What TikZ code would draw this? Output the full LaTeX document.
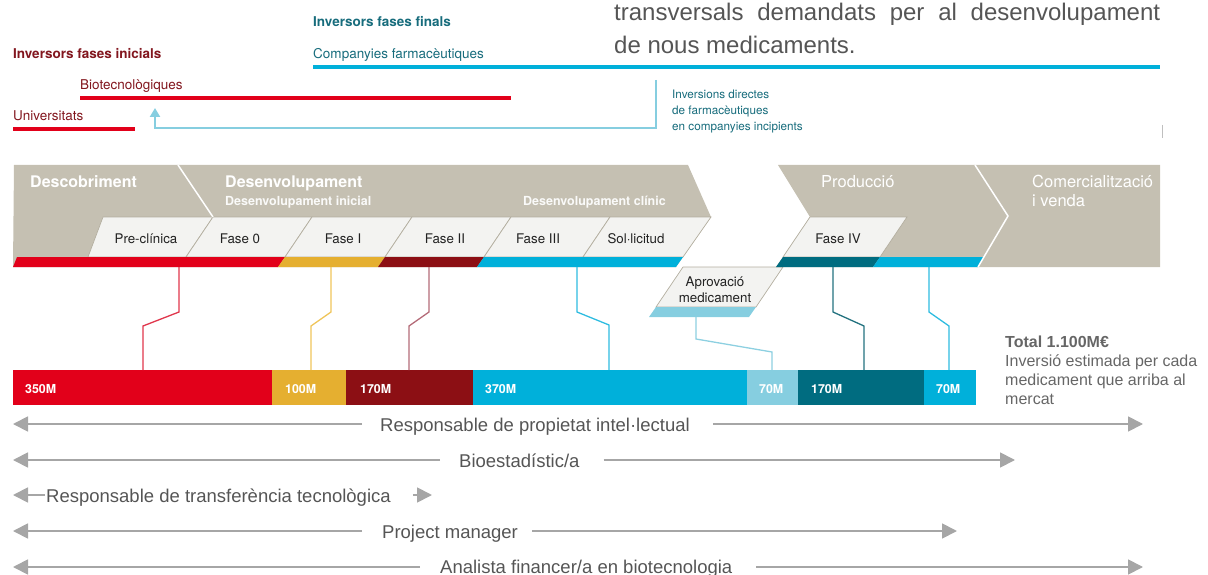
\documentclass[tikz,border=0pt]{standalone}
\usepackage{fontspec}
\setmainfont{TeX Gyre Heros}
\newfontfamily\arialf{Liberation Sans}
\usetikzlibrary{arrows.meta}
\definecolor{bandc}{HTML}{C5C0B2}
\definecolor{cellc}{HTML}{F3F3F1}
\definecolor{celledge}{HTML}{B3AE9F}
\definecolor{redc}{HTML}{E2001A}
\definecolor{orangec}{HTML}{E5AF30}
\definecolor{dredc}{HTML}{8C0F14}
\definecolor{cyanc}{HTML}{00B0DA}
\definecolor{lbluec}{HTML}{86CEE0}
\definecolor{tealc}{HTML}{006C80}
\definecolor{tealtext}{HTML}{176C7C}
\definecolor{dredtext}{HTML}{82161E}
\definecolor{rolegray}{HTML}{A6A6A6}
\definecolor{roletext}{HTML}{555555}
\definecolor{darktext}{HTML}{222222}
\definecolor{conred}{HTML}{E0364C}
\definecolor{conorange}{HTML}{EFC55A}
\definecolor{condred}{HTML}{B46B78}
\definecolor{concyan}{HTML}{2EBCE0}
\definecolor{conlb}{HTML}{8DD0E1}
\definecolor{conteal}{HTML}{23727F}
\tikzset{
  toplabel/.style={anchor=base west, inner sep=0pt, font=\fontsize{13.5}{16}\selectfont},
  headlabel/.style={anchor=base west, inner sep=0pt, text=white, font=\fontsize{16}{19}\selectfont\bfseries},
  sublabel/.style={anchor=base west, inner sep=0pt, text=white!92!bandc, font=\fontsize{12.5}{15}\selectfont\bfseries},
  celltext/.style={anchor=base, inner sep=0pt, text=darktext, font=\fontsize{13.3}{16}\selectfont},
  barlabel/.style={anchor=base west, inner sep=0pt, text=white, font=\fontsize{12.4}{15}\selectfont\bfseries},
  seg/.style={anchor=north west, inner sep=0pt, minimum height=35pt},
  conn/.style={line width=1.3pt},
  roletextst/.style={anchor=base west, inner sep=0pt, text=roletext, font=\arialf\fontsize{18.5}{22}\selectfont},
  rolearrow/.style={draw=rolegray, line width=1.8pt, -{Triangle[length=15pt,width=15pt]}},
  cellshape/.style={fill=cellc, draw=celledge, line width=0.7pt}
}
\begin{document}
\begin{tikzpicture}[x=1pt,y=-1pt]
\useasboundingbox (0,0) rectangle (1208,575);

% ---------- top text ----------
\node[anchor=base west, inner sep=0pt, text=roletext, font=\arialf\fontsize{24}{33}\selectfont] (tr1) at (614,21)
  {\hbox to 546pt{transversals\hfill demandats\hfill per\hfill al\hfill desenvolupament}};
\node[anchor=base west, inner sep=0pt, text=roletext, font=\arialf\fontsize{24}{33}\selectfont] (tr2) at (614,54)
  {de nous medicaments.};

\node[toplabel, text=tealtext, font=\fontsize{13.5}{16}\selectfont\bfseries] (iff) at (313,27) {Inversors fases finals};
\node[toplabel, text=dredtext, font=\fontsize{13.5}{16}\selectfont\bfseries] (ifi) at (13,59) {Inversors fases inicials};
\node[toplabel, text=tealtext] (cf) at (313,59) {Companyies farmacèutiques};
\node[toplabel, text=dredtext] (bt) at (80,90) {Biotecnològiques};
\node[toplabel, text=dredtext] (un) at (13,121) {Universitats};
\node[anchor=base west, inner sep=0pt, text=tealtext, align=left,
  font=\fontsize{11.7}{16}\selectfont] (idf) at (672,131)
  {Inversions directes\\de farmacèutiques\\en companyies incipients};

\coordinate (cfA) at (313,67); \coordinate (cfB) at (1160,67);
\draw[cyanc, line width=3.5pt] (cfA) -- (cfB);
\coordinate (btA) at (80,98); \coordinate (btB) at (511,98);
\draw[redc, line width=3.5pt] (btA) -- (btB);
\coordinate (unA) at (13,129); \coordinate (unB) at (135,129);
\draw[redc, line width=3.5pt] (unA) -- (unB);
\coordinate (arS) at (656,80); \coordinate (arT) at (155,108);
\draw[lbluec, line width=2.5pt, -{Triangle[length=9pt,width=10pt]}] (arS) -- (656,128) -- (155,128) -- (arT);
\coordinate (tkA) at (1162,125); \coordinate (tkB) at (1162,138);
\draw[black!25, line width=1pt] (tkA) -- (tkB);

% ---------- process band ----------
\fill[bandc] (14,165) -- (688,165) -- (711,217) -- (683,257) -- (676,267) -- (13,267) -- cycle;
\fill[bandc] (778,165) -- (1160,165) -- (1160,267) -- (776,267) -- (783,257) -- (810,217) -- cycle;

\draw[cellshape] (103,217) -- (213,217) -- (186,257) -- (88,257) -- cycle;
\draw[cellshape] (213,217) -- (312,217) -- (285,257) -- (186,257) -- cycle;
\draw[cellshape] (312,217) -- (412,217) -- (385,257) -- (285,257) -- cycle;
\draw[cellshape] (412,217) -- (511,217) -- (484,257) -- (385,257) -- cycle;
\draw[cellshape] (511,217) -- (610,217) -- (583,257) -- (484,257) -- cycle;
\draw[cellshape] (610,217) -- (711,217) -- (683,257) -- (583,257) -- cycle;
\draw[cellshape] (810,217) -- (907,217) -- (880,257) -- (783,257) -- cycle;
\draw[cellshape] (683,267) -- (783,267) -- (756,307) -- (656,307) -- cycle;

\fill[redc] (17,257) -- (285,257) -- (278,267) -- (13,267) -- cycle;
\fill[orangec] (285,257) -- (385,257) -- (378,267) -- (278,267) -- cycle;
\fill[dredc] (385,257) -- (484,257) -- (477,267) -- (378,267) -- cycle;
\fill[cyanc] (484,257) -- (683,257) -- (676,267) -- (477,267) -- cycle;
\fill[tealc] (783,257) -- (880,257) -- (873,267) -- (776,267) -- cycle;
\fill[cyanc] (880,257) -- (984,257) -- (978,267) -- (873,267) -- cycle;
\fill[lbluec] (656,307) -- (756,307) -- (749,317) -- (649,317) -- cycle;

\draw[white, line width=1.5pt] (178,165) -- (213,217);
\draw[white, line width=1.5pt] (975,165) -- (1008,216) -- (978,267);

\node[headlabel] (hdesc) at (30,187) {Descobriment};
\node[headlabel] (hdev) at (225,187) {Desenvolupament};
\node[sublabel] (hdevi) at (225,205) {Desenvolupament inicial};
\node[sublabel] (hdevc) at (523,205) {Desenvolupament clínic};
\node[headlabel, font=\fontsize{16.5}{19}\selectfont] (hprod) at (821,187) {Producció};
\node[headlabel, align=left, font=\fontsize{16.5}{19}\selectfont] (hcom) at (1032,206) {Comercialització\\i venda};

\node[celltext] (cpre) at (146,243) {Pre-clínica};
\node[celltext] (cf0) at (240,243) {Fase 0};
\node[celltext] (cf1) at (343,243) {Fase I};
\node[celltext] (cf2) at (445,243) {Fase II};
\node[celltext] (cf3) at (538,243) {Fase III};
\node[celltext] (csol) at (636,243) {Sol·licitud};
\node[celltext] (cf4) at (838,243) {Fase IV};
\node[celltext, align=center, font=\fontsize{13.3}{16}\selectfont] (capr) at (715,302) {Aprovació\\medicament};

% ---------- lower bar ----------
\node[seg, fill=redc, minimum width=259pt] (s1) at (13,370) {};
\node[seg, fill=orangec, minimum width=74pt] (s2) at (272,370) {};
\node[seg, fill=dredc, minimum width=127pt] (s3) at (346,370) {};
\node[seg, fill=cyanc, minimum width=274pt] (s4) at (473,370) {};
\node[seg, fill=lbluec, minimum width=51pt] (s5) at (747,370) {};
\node[seg, fill=tealc, minimum width=126pt] (s6) at (798,370) {};
\node[seg, fill=cyanc, minimum width=52pt] (s7) at (924,370) {};

\node[barlabel] (b1) at (25,393) {350M};
\node[barlabel] (b2) at (285,393) {100M};
\node[barlabel] (b3) at (360,393) {170M};
\node[barlabel] (b4) at (485,393) {370M};
\node[barlabel] (b5) at (759,393) {70M};
\node[barlabel] (b6) at (811,393) {170M};
\node[barlabel] (b7) at (936,393) {70M};

% ---------- connectors ----------
\coordinate (u1) at (179,267); \coordinate (l1) at (143,370);
\coordinate (u2) at (331,267); \coordinate (l2) at (311,370);
\coordinate (u3) at (429,267); \coordinate (l3) at (409,370);
\coordinate (u4) at (577,267); \coordinate (l4) at (609,370);
\coordinate (u5) at (696,317); \coordinate (l5) at (772,370);
\coordinate (u6) at (833,267); \coordinate (l6) at (864,370);
\coordinate (u7) at (929,267); \coordinate (l7) at (949,370);
\draw[conn, conred] (u1) -- (179,312) -- (143,326) -- (l1);
\draw[conn, conorange] (u2) -- (331,312) -- (311,326) -- (l2);
\draw[conn, condred] (u3) -- (429,312) -- (409,326) -- (l3);
\draw[conn, concyan] (u4) -- (577,312) -- (609,325) -- (l4);
\draw[conn, conlb] (u5) -- (696,339) -- (772,352) -- (l5);
\draw[conn, conteal] (u6) -- (833,312) -- (864,326) -- (l6);
\draw[conn, concyan] (u7) -- (929,312) -- (949,326) -- (l7);

% ---------- total ----------
\node[anchor=base west, inner sep=0pt, text=roletext!90, font=\arialf\fontsize{16}{19}\selectfont\bfseries] (tot) at (1005,347) {Total 1.100M€};
\node[anchor=base west, inner sep=0pt, text=roletext!90, align=left, font=\arialf\fontsize{16}{19}\selectfont] (totd) at (1005,404)
  {Inversió estimada per cada\\medicament que arriba al\\mercat};

% ---------- roles ----------
\node[roletextst] (r1) at (380,431) {Responsable de propietat intel·lectual};
\node[roletextst] (r2) at (459,467) {Bioestadístic/a};
\node[roletextst] (r3) at (46,502) {Responsable de transferència tecnològica};
\node[roletextst] (r4) at (382,538) {Project manager};
\node[roletextst] (r5) at (440,573) {Analista financer/a en biotecnologia};

\coordinate (r1l) at (13,424); \coordinate (r1r) at (1143,424);
\coordinate (r2l) at (13,460); \coordinate (r2r) at (1015,460);
\coordinate (r3l) at (13,495); \coordinate (r3r) at (432,495);
\coordinate (r4l) at (13,531); \coordinate (r4r) at (957,531);
\coordinate (r5l) at (13,567); \coordinate (r5r) at (1143,567);

\draw[rolearrow, shorten <=18pt] (r1.west |- r1l) -- (r1l);
\draw[rolearrow, shorten <=23pt] (r1.east |- r1r) -- (r1r);
\draw[rolearrow, shorten <=19pt] (r2.west |- r2l) -- (r2l);
\draw[rolearrow, shorten <=24pt] (r2.east |- r2r) -- (r2r);
\draw[rolearrow, shorten <=1pt] (r3.west |- r3l) -- (r3l);
\draw[rolearrow, shorten <=22pt] (r3.east |- r3r) -- (r3r);
\draw[rolearrow, shorten <=20pt] (r4.west |- r4l) -- (r4l);
\draw[rolearrow, shorten <=14pt] (r4.east |- r4r) -- (r4r);
\draw[rolearrow, shorten <=20pt] (r5.west |- r5l) -- (r5l);
\draw[rolearrow, shorten <=24pt] (r5.east |- r5r) -- (r5r);
\end{tikzpicture}
\end{document}
